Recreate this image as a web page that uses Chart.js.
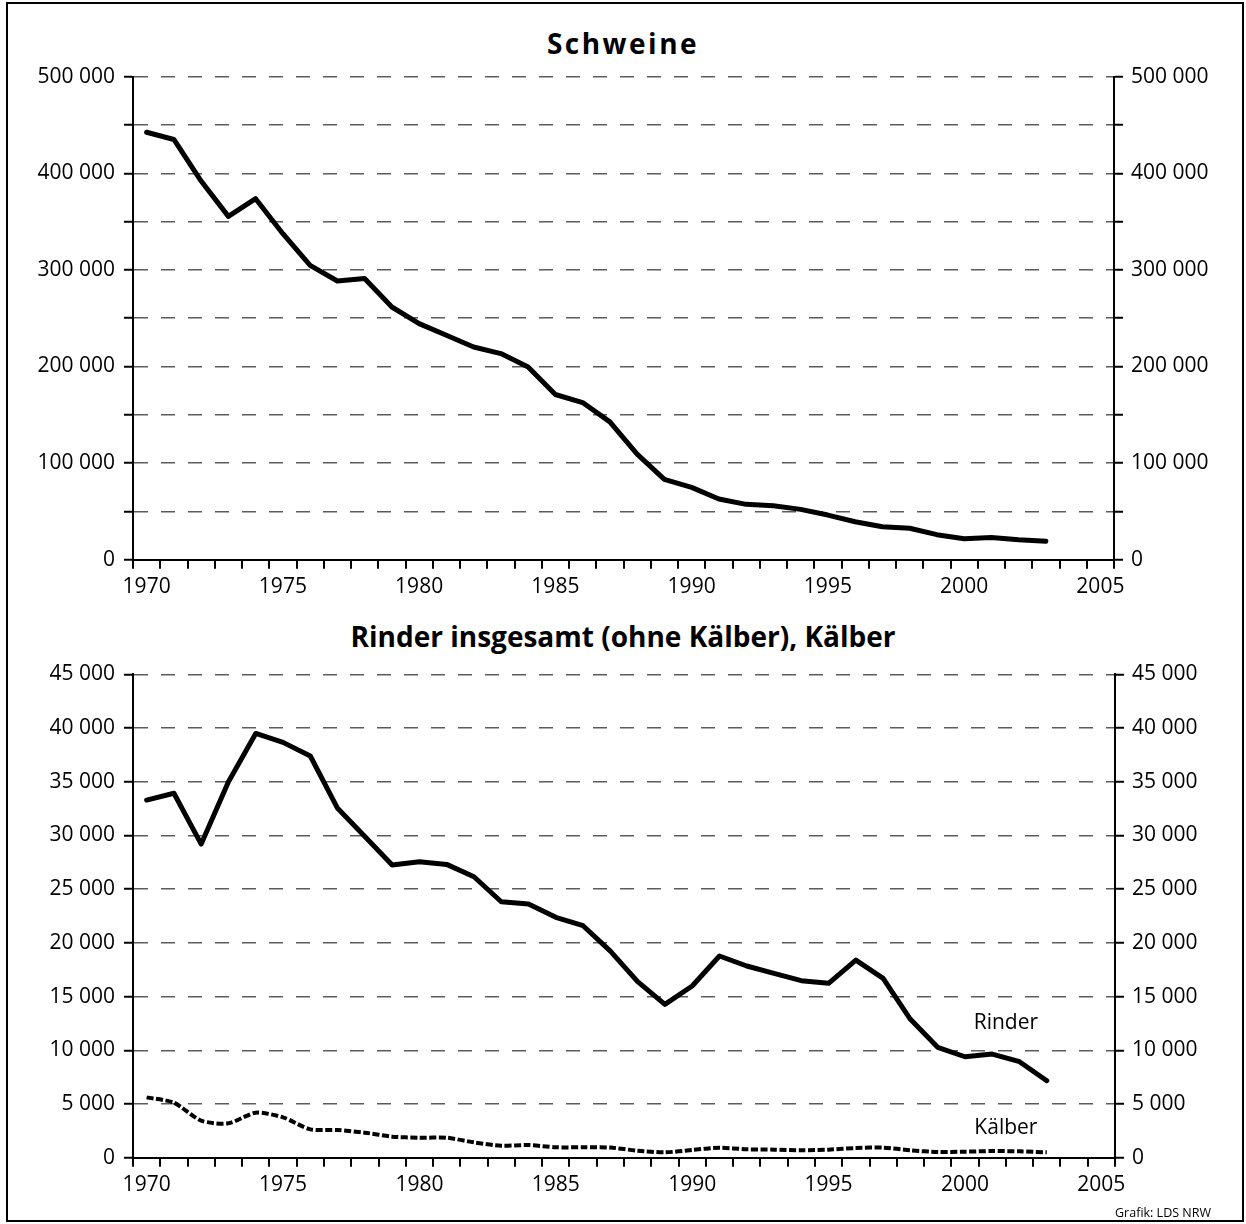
<!DOCTYPE html>
<html lang="de">
<head>
<meta charset="UTF-8">
<title>Schweine, Rinder, Kälber</title>
<script src="https://cdn.jsdelivr.net/npm/chart.js"></script>
<style>
    body { margin: 0; background: #fff; font-family: "Open Sans", sans-serif; }
    #page { position: relative; width: 1246px; height: 1224px; overflow: hidden; }
    #frame { position: absolute; left: 6px; top: 2px; width: 1238px; height: 1220px; box-sizing: border-box; border: 2px solid #000; }
    .title { position: absolute; left: 0; width: 1246px; text-align: center; font-weight: 700; font-size: 28px; line-height: 28px; color: #000; }
    canvas { position: absolute; left: 0; }
    #credit { position: absolute; left: 1115px; top: 1204px; font-size: 12.5px; line-height: 18px; color: #000; }
</style>
</head>
<body>
<div id="page">
    <div id="frame"></div>
    <div class="title" style="top:29px; letter-spacing:2.5px;">Schweine</div>
    <div class="title" style="top:622px;">Rinder insgesamt (ohne Kälber), Kälber</div>
    <canvas id="topChart" width="1246" height="600" style="top:0;"></canvas>
    <canvas id="bottomChart" width="1246" height="620" style="top:600px;"></canvas>
    <div id="credit">Grafik: LDS NRW</div>
</div>

<script>
    // x categories (years)
    const years = ["1970", "1971", "1972", "1973", "1974", "1975", "1976", "1977", "1978", "1979",
        "1980", "1981", "1982", "1983", "1984", "1985", "1986", "1987", "1988", "1989",
        "1990", "1991", "1992", "1993", "1994", "1995", "1996", "1997", "1998", "1999",
        "2000", "2001", "2002", "2003", "2004", "2005"];

    // Schweine, 1970-2003
    const schweine = [442500, 435000, 392000, 355400, 373700, 337500, 304700, 288500, 291000, 261600,
        244400, 232300, 220200, 213400, 199600, 171000, 162700, 142700, 109300, 83100,
        74900, 62800, 57300, 55800, 52100, 46200, 39300, 34100, 32500, 25900,
        21700, 23100, 20700, 19000];

    // Rinder insgesamt (ohne Kälber), 1970-2003
    const rinder = [33300, 33930, 29200, 35000, 39500, 38670, 37400, 32530, 29900, 27250,
        27560, 27310, 26160, 23830, 23620, 22380, 21600, 19240, 16390, 14280,
        15990, 18780, 17850, 17170, 16480, 16240, 18400, 16700, 12880, 10280,
        9400, 9650, 8940, 7170];

    // Kälber, 1970-2003
    const kaelber = [5620, 5120, 3450, 3200, 4190, 3760, 2640, 2580, 2330, 1960,
        1860, 1860, 1430, 1120, 1180, 970, 970, 940, 650, 500,
        720, 930, 780, 750, 690, 750, 900, 940, 690, 530,
        560, 620, 590, 500];

    // y axis ranges
    const schweineMax = 500000, schweineStep = 50000, schweineLabelStep = 100000;
    const rinderMax = 45000, rinderStep = 5000, rinderLabelStep = 5000;

    Chart.defaults.font.family = '"Open Sans", sans-serif';
    Chart.defaults.color = "#000";

    function fmt(v) {
        return String(v).replace(/\B(?=(\d{3})+(?!\d))/g, " ");
    }

    function yAxis(side, max, step, labelStep, width, onArea) {
        return {
            position: side,
            min: 0,
            max: max,
            afterFit: s => { s.width = width; },
            // in v4 border.dash is what dashes the grid lines
            border: { display: true, color: "#000", width: 2, dash: [14, 13] },
            grid: {
                drawOnChartArea: onArea,
                color: c => (c.tick && c.tick.value === 0) ? "rgba(0,0,0,0)" : "#5c5c5c",
                lineWidth: 1.5,
                tickLength: 9,
                tickColor: "#000",
                tickWidth: 2,
                tickBorderDash: []
            },
            ticks: {
                stepSize: step,
                autoSkip: false,
                padding: side === "left" ? 9 : 8,
                font: { size: 21 },
                callback: v => (v % labelStep === 0) ? fmt(v) : ""
            }
        };
    }

    function makeOptions(max, step, labelStep, padTop, xHeight, rightWidth) {
        return {
            responsive: false,
            animation: false,
            devicePixelRatio: 1,
            layout: { padding: { top: padTop, left: 0, right: 0, bottom: 0 } },
            plugins: { legend: { display: false }, tooltip: { enabled: false } },
            scales: {
                x: {
                    type: "category",
                    offset: true,
                    afterFit: s => { s.height = xHeight; },
                    border: { display: true, color: "#000", width: 2 },
                    grid: { offset: true, drawOnChartArea: false, tickLength: 9, color: "#000", lineWidth: 2 },
                    ticks: {
                        autoSkip: false,
                        maxRotation: 0,
                        padding: 6,
                        font: { size: 21 },
                        callback: function (v) {
                            const l = this.getLabelForValue(v);
                            return Number(l) % 5 === 0 ? l : "";
                        }
                    }
                },
                y: yAxis("left", max, step, labelStep, 133, true),
                y2: yAxis("right", max, step, labelStep, rightWidth, false)
            }
        };
    }

    function lineSet(label, data, width, dash, tension) {
        return {
            label: label,
            data: data,
            borderColor: "#000",
            borderWidth: width,
            borderDash: dash,
            borderCapStyle: dash.length ? "butt" : "round",
            borderJoinStyle: "round",
            tension: tension,
            pointRadius: 0,
            fill: false,
            yAxisID: "y"
        };
    }

    new Chart(document.getElementById("topChart"), {
        type: "line",
        data: {
            labels: years,
            datasets: [lineSet("Schweine", schweine, 5, [], 0)]
        },
        options: makeOptions(schweineMax, schweineStep, schweineLabelStep, 76.7, 40.3, 132)
    });

    // text labels next to the two lines in the lower chart
    const seriesNames = {
        id: "seriesNames",
        afterDatasetsDraw(chart) {
            const ctx = chart.ctx;
            const x = chart.scales.x;
            const y = chart.scales.y;
            const cx = (x.getPixelForValue(31) + x.getPixelForValue(32)) / 2;
            ctx.save();
            ctx.fillStyle = "#000";
            ctx.font = '21px "Open Sans", sans-serif';
            ctx.textAlign = "center";
            ctx.textBaseline = "middle";
            ctx.fillText("Rinder", cx, y.getPixelForValue(12500));
            ctx.fillText("Kälber", cx, y.getPixelForValue(2750));
            ctx.restore();
        }
    };

    new Chart(document.getElementById("bottomChart"), {
        type: "line",
        data: {
            labels: years,
            datasets: [
                lineSet("Rinder", rinder, 5, [], 0),
                lineSet("Kälber", kaelber, 4, [7, 2.5], 0.25)
            ]
        },
        options: makeOptions(rinderMax, rinderStep, rinderLabelStep, 74.4, 62.3, 131),
        plugins: [seriesNames]
    });
</script>
</body>
</html>
